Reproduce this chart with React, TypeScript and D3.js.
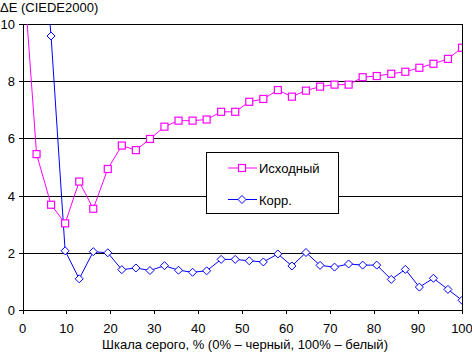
import React from "react";
import * as d3 from "d3";

const xValues = [0, 3.2, 6.5, 9.7, 12.9, 16.1, 19.4, 22.6, 25.8, 29.0, 32.3, 35.5, 38.7, 41.9, 45.2, 48.4, 51.6, 54.8, 58.1, 61.3, 64.5, 67.7, 71.0, 74.2, 77.4, 80.6, 83.9, 87.1, 90.3, 93.5, 96.8, 100];
const original = [12.3, 5.45, 3.68, 3.03, 4.49, 3.54, 4.93, 5.75, 5.59, 5.98, 6.41, 6.62, 6.62, 6.66, 6.93, 6.93, 7.28, 7.38, 7.69, 7.46, 7.67, 7.81, 7.88, 7.88, 8.14, 8.18, 8.26, 8.33, 8.47, 8.61, 8.78, 9.17];
const corrected = [20, 15.5, 9.58, 2.07, 1.09, 2.04, 2.0, 1.41, 1.47, 1.38, 1.55, 1.39, 1.32, 1.37, 1.77, 1.77, 1.72, 1.68, 1.96, 1.54, 2.01, 1.56, 1.5, 1.61, 1.57, 1.57, 1.07, 1.42, 0.8, 1.11, 0.72, 0.34];
const xTicks = [0, 10, 20, 30, 40, 50, 60, 70, 80, 90, 100];
const yTicks = [0, 2, 4, 6, 8, 10];
const seriesNames = ["Исходный", "Корр."];
const yTitle = "ΔE (CIEDE2000)";
const xTitle = "Шкала серого, % (0% – черный, 100% – белый)";

const W = 472, H = 353;
const L = 22.5, R = 462, T = 24, B = 310;
const FONT = "'Liberation Sans', Arial, sans-serif";
const PINK = "#ff00ff", BLUE = "#0000ff";

export default function App() {
  const x = d3.scaleLinear().domain([0, 100]).range([L, R]);
  const y = d3.scaleLinear().domain([0, 10]).range([B, T]);
  const line = d3.line<number>().x((_, i) => x(xValues[i])).y((d) => y(d));
  const inside = (v: number) => v <= 10 && v >= 0;
  const sq = 3.5, dm = 4;
  const diamond = (cx: number, cy: number) => `M${cx},${cy - dm}L${cx + dm},${cy}L${cx},${cy + dm}L${cx - dm},${cy}Z`;
  const r = (v: number) => Math.round(v) + 0.5;

  const legX = 206, legY = 152, legW = 132, legH = 61;
  const e1 = 168, e2 = 199.5;

  return (
    <svg width={W} height={H} style={{ position: "absolute", left: 0, top: 0, background: "#fff" }} fontFamily={FONT}>
      <defs>
        <clipPath id="plot">
          <rect x={L} y={T} width={R - L} height={B - T} />
        </clipPath>
      </defs>
      <rect width={W} height={H} fill="#fff" />
      <text x={0} y={12} fontSize={13} fill="#000">{yTitle}</text>
      {yTicks.filter((t) => t > 0).map((t) => (
        <line key={t} x1={L - 4} x2={R} y1={r(y(t))} y2={r(y(t))} stroke="#000" strokeWidth={1} shapeRendering="crispEdges" />
      ))}
      <line x1={r(L)} x2={r(L)} y1={T} y2={B + 4} stroke="#000" shapeRendering="crispEdges" />
      <line x1={L - 4} x2={R} y1={r(B)} y2={r(B)} stroke="#000" shapeRendering="crispEdges" />
      <line x1={r(R)} x2={r(R)} y1={T} y2={B + 4} stroke="#000" shapeRendering="crispEdges" />
      {xTicks.map((t) => (
        <g key={t}>
          <line x1={r(x(t))} x2={r(x(t))} y1={B} y2={B + 4} stroke="#000" shapeRendering="crispEdges" />
          <text x={x(t)} y={333} fontSize={13} textAnchor="middle" fill="#000">{t}</text>
        </g>
      ))}
      {yTicks.map((t) => (
        <text key={t} x={15} y={y(t) + 5} fontSize={13} textAnchor="end" fill="#000">{t}</text>
      ))}
      <text x={245} y={349} fontSize={13} textAnchor="middle" fill="#000">{xTitle}</text>

      <g clipPath="url(#plot)">
        <path d={line(corrected) || ""} fill="none" stroke={BLUE} strokeWidth={1} />
        {corrected.map((v, i) => inside(v) ? (
          <path key={i} d={diamond(x(xValues[i]), y(v))} fill="#fff" stroke={BLUE} strokeWidth={1} />
        ) : null)}
        <path d={line(original) || ""} fill="none" stroke={PINK} strokeWidth={1} />
        {original.map((v, i) => inside(v) ? (
          <rect key={i} x={x(xValues[i]) - sq} y={y(v) - sq} width={sq * 2} height={sq * 2} fill="#fff" stroke={PINK} strokeWidth={1.2} />
        ) : null)}
      </g>

      <rect x={legX + 0.5} y={legY + 0.5} width={legW} height={legH} fill="#fff" stroke="#000" strokeWidth={1} shapeRendering="crispEdges" />
      <line x1={228} x2={257} y1={e1} y2={e1} stroke={PINK} />
      <rect x={242 - sq} y={e1 - sq} width={sq * 2} height={sq * 2} fill="#fff" stroke={PINK} strokeWidth={1.2} />
      <text x={259} y={e1 + 5} fontSize={13} fill="#000">{seriesNames[0]}</text>
      <line x1={228} x2={257} y1={e2} y2={e2} stroke={BLUE} />
      <path d={diamond(242, e2)} fill="#fff" stroke={BLUE} />
      <text x={259} y={e2 + 5} fontSize={13} fill="#000">{seriesNames[1]}</text>
    </svg>
  );
}
